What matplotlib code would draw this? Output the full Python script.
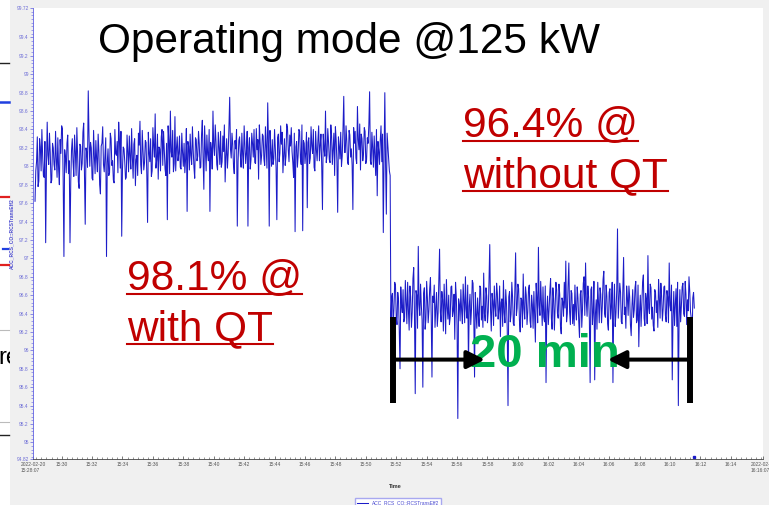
import numpy as np
import pandas as pd
import matplotlib
matplotlib.use("Agg")
import matplotlib.pyplot as plt
import matplotlib.dates as mdates
from matplotlib.ticker import FixedLocator, MultipleLocator
from matplotlib.lines import Line2D
from matplotlib.patches import Rectangle
from matplotlib.transforms import Bbox, TransformedBbox

plt.rcParams['font.family'] = ['Liberation Sans', 'DejaVu Sans']

# RCS transmission efficiency [%], one sample every 3 s
# with QT (before the drop)
eff_with_qt = [
    97.62, 97.95, 98.05, 98.32, 97.78, 97.84, 98.30, 98.21, 97.95, 98.40, 98.12, 97.90,
    97.88, 98.27, 97.17, 97.98, 98.48, 98.12, 98.02, 98.36, 98.15, 97.82, 97.85, 98.25,
    98.20, 98.02, 97.96, 98.38, 98.08, 97.88, 98.31, 97.97, 97.80, 98.29, 98.14, 98.44,
    98.41, 97.86, 97.02, 98.18, 98.10, 97.93, 98.25, 98.34, 97.92, 98.06, 97.17, 97.84,
    98.18, 98.30, 98.05, 97.89, 98.34, 98.16, 97.90, 98.42, 98.12, 97.83, 97.76, 98.24,
    98.22, 97.96, 98.03, 98.37, 98.47, 97.91, 97.37, 98.20, 98.15, 97.99, 98.82, 98.33,
    98.00, 98.26, 98.20, 97.87, 97.85, 98.39, 98.11, 97.92, 98.28, 98.08, 97.94, 98.35,
    98.16, 97.80, 97.70, 98.22, 98.25, 98.43, 98.02, 97.94, 98.12, 98.31, 97.02, 98.04,
    98.19, 97.90, 97.93, 98.36, 98.30, 98.01, 98.06, 97.85, 97.82, 98.40, 98.14, 98.12,
    98.27, 97.93, 98.48, 98.28, 97.98, 98.38, 97.24, 97.97, 98.21, 98.19, 98.05, 97.86,
    97.88, 98.34, 98.16, 97.94, 98.33, 98.11, 97.97, 98.41, 98.10, 97.87, 98.24, 98.30,
    97.79, 98.07, 98.12, 97.90, 98.36, 98.23, 98.49, 98.02, 97.92, 98.39, 98.18, 97.96,
    98.04, 98.28, 98.26, 97.91, 97.39, 98.37, 98.15, 98.05, 98.30, 97.89, 97.95, 98.42,
    98.22, 98.10, 98.57, 97.98, 98.07, 98.35, 97.86, 98.21, 98.19, 97.95, 98.32, 98.40,
    98.01, 98.38, 98.17, 97.97, 97.90, 98.25, 97.42, 98.44, 98.28, 97.92, 98.60, 98.16,
    98.10, 98.39, 97.94, 98.03, 98.54, 97.95, 98.20, 98.32, 98.06, 98.14, 98.33, 97.99,
    97.97, 98.36, 98.15, 98.00, 98.25, 97.93, 98.08, 98.41, 97.51, 98.27, 98.22, 97.96,
    98.35, 98.12, 98.02, 98.43, 98.18, 97.99, 97.87, 98.31, 98.29, 98.06, 98.11, 98.38,
    98.24, 97.98, 97.99, 98.35, 98.50, 98.09, 97.75, 98.44, 98.20, 97.95, 98.34, 98.13,
    98.06, 98.40, 97.51, 98.26, 98.18, 97.97, 98.60, 98.21, 98.12, 98.45, 98.27, 98.02,
    97.96, 98.37, 98.21, 98.02, 98.38, 97.99, 98.05, 98.33, 98.16, 98.45, 97.83, 98.11,
    98.30, 97.98, 98.14, 98.42, 98.75, 98.19, 98.09, 98.36, 98.24, 98.01, 97.92, 98.28,
    98.19, 98.40, 97.35, 98.05, 98.28, 98.32, 98.12, 97.99, 98.36, 98.13, 97.98, 98.44,
    98.22, 98.03, 98.15, 98.38, 97.35, 98.20, 98.31, 97.97, 98.07, 98.36, 98.25, 98.10,
    98.40, 98.04, 98.03, 98.41, 98.18, 98.29, 97.86, 98.45, 98.26, 98.02, 98.12, 98.35,
    98.33, 98.08, 98.01, 98.43, 98.21, 97.98, 98.69, 98.24, 97.35, 98.39, 98.17, 98.00,
    98.29, 98.02, 98.08, 98.40, 98.20, 97.98, 97.42, 98.31, 98.35, 98.05, 98.14, 98.44,
    98.24, 98.37, 97.93, 98.12, 98.30, 98.01, 98.11, 98.46, 98.42, 98.18, 98.05, 98.34,
    98.22, 98.42, 98.16, 98.04, 97.88, 98.36, 97.29, 98.21, 98.27, 97.99, 98.12, 98.40,
    98.38, 98.09, 98.02, 98.45, 97.30, 98.28, 98.25, 98.03, 98.15, 98.37, 97.55, 98.26,
    98.31, 98.03, 98.09, 98.43, 98.22, 98.14, 98.40, 97.99, 97.95, 98.38, 98.18, 98.06,
    98.28, 98.44, 98.06, 98.23, 98.35, 98.01, 97.53, 98.35, 98.20, 98.11, 98.60, 98.04,
    98.12, 98.41, 98.26, 98.07, 98.04, 98.45, 98.33, 98.02, 98.18, 98.36, 97.90, 98.43,
    98.29, 98.05, 97.50, 98.32, 98.22, 98.08, 98.37, 98.00, 98.11, 98.40, 98.76, 98.15,
    98.15, 98.44, 98.27, 98.04, 98.02, 98.39, 98.34, 98.10, 98.19, 98.01, 97.53, 98.42,
    98.25, 98.38, 98.09, 98.03, 98.65, 98.29, 98.18, 98.46, 97.96, 98.35, 98.30, 98.06,
    98.14, 98.42, 98.38, 98.03, 98.07, 98.31, 98.25, 98.45, 98.81, 98.06, 98.02, 98.37,
    98.20, 97.99, 98.33, 98.12, 97.90, 98.40, 97.68, 98.27, 98.17, 98.02, 98.28, 98.44,
    98.05, 98.35, 97.28, 98.10, 98.80, 98.02, 97.48, 98.36, 98.22, 98.08, 97.95, 97.90,
]
# without QT (after the drop)
eff_without_qt = [
    96.30, 96.58, 96.62, 96.27, 96.45, 96.74, 96.71, 96.36, 96.28, 96.63,
    96.55, 96.22, 95.80, 96.69, 96.48, 96.41, 96.66, 96.31, 96.35, 96.76,
    96.52, 96.29, 96.74, 96.44, 96.22, 96.70, 96.58, 96.25, 96.41, 96.78,
    96.90, 96.39, 95.53, 96.65, 96.60, 96.24, 97.13, 96.50, 96.38, 96.72,
    96.49, 96.33, 95.60, 96.62, 96.68, 96.23, 96.33, 96.75, 96.57, 96.30,
    96.44, 96.67, 96.79, 96.38, 95.71, 96.59, 96.52, 96.71, 96.25, 96.46,
    96.63, 96.26, 96.40, 96.73, 97.10, 96.42, 96.31, 96.64, 96.55, 96.21,
    96.72, 96.48, 96.18, 96.77, 96.47, 96.34, 96.60, 96.28, 96.36, 96.69,
    96.70, 96.37, 96.43, 96.61, 96.12, 96.74, 96.58, 96.27, 95.26, 96.56,
    96.50, 96.32, 96.66, 96.43, 96.29, 96.72, 96.54, 96.30, 96.80, 96.45,
    96.35, 96.71, 95.83, 96.48, 96.61, 96.28, 96.45, 96.76, 96.73, 96.35,
    95.71, 96.63, 96.40, 96.24, 96.57, 96.39, 96.26, 96.70, 96.68, 96.33,
    96.48, 96.25, 96.84, 96.40, 96.32, 96.68, 96.59, 96.30, 96.42, 96.75,
    97.15, 96.44, 96.21, 96.62, 96.53, 96.27, 96.70, 96.47, 96.37, 96.73,
    96.62, 96.34, 96.44, 96.70, 96.15, 96.52, 96.56, 96.26, 96.76, 96.41,
    96.30, 96.66, 96.51, 96.23, 95.40, 96.58, 96.64, 96.31, 96.39, 96.74,
    96.58, 96.29, 96.27, 96.65, 97.06, 96.38, 96.46, 96.72, 96.67, 96.33,
    96.20, 96.57, 96.55, 96.25, 96.83, 96.45, 96.34, 96.69, 96.60, 96.28,
    96.42, 96.67, 96.71, 96.32, 96.25, 96.60, 96.50, 96.24, 96.64, 96.39,
    96.09, 96.73, 96.57, 96.30, 97.12, 96.49, 96.38, 96.75, 96.52, 96.27,
    96.69, 96.36, 96.31, 96.70, 95.65, 96.43, 96.59, 96.28, 96.44, 96.64,
    96.78, 96.35, 96.23, 96.68, 96.56, 96.22, 96.47, 96.74, 96.66, 96.40,
    96.35, 96.72, 96.61, 96.26, 96.18, 96.57, 96.53, 96.37, 96.74, 96.46,
    96.97, 96.31, 96.40, 96.71, 96.95, 96.42, 96.28, 96.65, 96.62, 96.29,
    96.50, 96.27, 96.71, 96.44, 96.33, 96.69, 96.57, 96.32, 96.14, 96.61,
    96.65, 96.25, 96.45, 96.73, 96.80, 96.38, 96.95, 96.53, 96.37, 96.70,
    96.58, 96.33, 95.65, 96.66, 96.69, 96.28, 96.42, 96.75, 95.68, 96.40,
    96.55, 96.23, 96.74, 96.52, 96.30, 96.68, 96.61, 96.30, 96.48, 96.77,
    96.86, 96.40, 96.36, 96.71, 96.59, 96.29, 96.22, 96.63, 96.67, 96.34,
    96.49, 96.74, 95.65, 96.45, 96.72, 96.26, 96.41, 96.66, 97.32, 96.35,
    96.54, 96.73, 96.63, 96.31, 96.29, 96.64, 97.01, 96.39, 96.47, 96.24,
    96.70, 96.57, 96.38, 96.70, 96.58, 96.28, 96.16, 96.48, 96.66, 96.36,
    96.44, 96.68, 96.75, 96.30, 96.33, 96.71, 96.04, 96.43, 96.60, 96.26,
    96.51, 96.74, 96.82, 96.35, 96.27, 96.62, 96.56, 96.29, 97.03, 96.46,
    96.40, 96.72, 96.68, 96.34, 96.47, 96.27, 96.21, 96.66, 96.63, 96.41,
    96.54, 96.25, 96.77, 96.58, 96.35, 96.73, 96.59, 96.32, 96.45, 96.69,
    96.70, 96.38, 96.31, 96.65, 96.58, 96.30, 96.95, 96.49, 96.43, 96.71,
    95.68, 96.36, 96.64, 96.27, 96.50, 96.67, 96.26, 96.74, 95.40, 96.33,
    96.66, 96.31, 96.48, 96.69, 96.73, 96.40, 96.37, 96.75, 96.61, 96.28,
    96.55, 96.43, 96.80, 96.64, 96.42, 96.35, 96.04, 96.57, 96.63, 96.46,
]
sample_start = "2022-02-20 15:28:15"
sample_step = "3s"

axis_start = "2022-02-20 15:28:07"
axis_end = "2022-02-20 16:16:07"
y_lo, y_hi = 94.82, 99.72
y_ticks = [94.82, 95, 95.2, 95.4, 95.6, 95.8, 96, 96.2, 96.4, 96.6, 96.8,
           97, 97.2, 97.4, 97.6, 97.8, 98, 98.2, 98.4, 98.6, 98.8, 99, 99.2, 99.4, 99.72]

# 20 min measuring window
span_start = "2022-02-20 15:51:48"
span_end = "2022-02-20 16:11:20"
span_lo, span_hi = 95.43, 96.36
arrow_y = 95.90
arrow_left_tip = "2022-02-20 15:57:50"
arrow_right_tip = "2022-02-20 16:05:55"

end_mark_time = "2022-02-20 16:11:35"
end_mark_val = 94.84

tag = "ACC_RCS_CO::RCSTransEff2"
blue = '#1c1cc8'
red = '#c00000'
green = '#00b050'

values = eff_with_qt + eff_without_qt
times = pd.date_range(sample_start, periods=len(values), freq=sample_step)
d = lambda s: mdates.date2num(pd.Timestamp(s))

fig = plt.figure(figsize=(7.69, 5.05), dpi=100, facecolor='#f0f0f0')
ax = fig.add_axes([33 / 769, 46 / 505, 730 / 769, 451 / 505])
ax.set_facecolor('white')

# leftover slide strip on the far left
fig.add_artist(Rectangle((0, 0), 10 / 769, 1, transform=fig.transFigure,
                         facecolor='white', edgecolor='none', zorder=-5))
for yy, c, w in [(63, '#222222', 1.0), (102, '#2040e0', 1.8), (197, '#e02020', 1.6),
                 (265, '#e02020', 1.6), (330, '#bbbbbb', 0.8), (422, '#bbbbbb', 0.8),
                 (435, '#222222', 1.0)]:
    fig.add_artist(Line2D([0, 9 / 769], [1 - yy / 505] * 2, color=c, lw=w))
fig.add_artist(Line2D([3 / 769, 8 / 769], [1 - 249 / 505] * 2, color='#2040e0', lw=1.6))
stub = fig.text(-2 / 769, 1 - 364 / 505, 're', fontsize=17, color='black')
stub.set_clip_box(TransformedBbox(Bbox([[0, 0], [10 / 769, 1]]), fig.transFigure))

line, = ax.plot(times, values, color=blue, lw=0.75, zorder=2)
ax.plot(pd.Timestamp(end_mark_time), end_mark_val, 's', ms=1.6, color=blue, clip_on=False)

ax.set_xlim(d(axis_start), d(axis_end))
ax.set_ylim(y_lo, y_hi)

for s in ['top', 'right']:
    ax.spines[s].set_visible(False)
ax.spines['left'].set_color('#6060e0')
ax.spines['left'].set_linewidth(0.6)
ax.spines['bottom'].set_color('#444444')
ax.spines['bottom'].set_linewidth(0.6)

ax.set_yticks(y_ticks)
ax.set_yticklabels([f"{v:g}" for v in y_ticks])
ax.yaxis.set_minor_locator(MultipleLocator(0.04))
ax.tick_params(axis='y', which='major', direction='out', length=2, width=0.5,
               color='#6060e0', labelsize=3.5, labelcolor='#6b6bd6', pad=1)
ax.tick_params(axis='y', which='minor', direction='out', length=1.2, width=0.4, color='#6060e0')

xt = [pd.Timestamp(axis_start)] + list(pd.date_range("2022-02-20 15:30", "2022-02-20 16:14", freq="2min")) + [pd.Timestamp(axis_end)]
ax.xaxis.set_major_locator(FixedLocator(mdates.date2num(xt)))
xl = [t.strftime("%H:%M") for t in xt]
xl[0] = xt[0].strftime("%Y-%m-%d\n%H:%M:%S")
xl[-1] = xt[-1].strftime("%Y-%m-%d\n%H:%M:%S")
ax.set_xticklabels(xl)
ax.xaxis.set_minor_locator(mdates.SecondLocator(bysecond=[0, 20, 40]))
ax.tick_params(axis='x', which='major', direction='in', length=2.5, width=0.5,
               color='#444444', labelsize=3.5, labelcolor='#555555', pad=2)
ax.tick_params(axis='x', which='minor', direction='in', length=1.5, width=0.4, color='#444444')
for lab in ax.get_xticklabels():
    lab.set_multialignment('left')

ax.set_xlabel('Time', fontsize=4, fontweight='bold', color='#333333')
ax.xaxis.set_label_coords((395 - 33) / 730, (459 - 484) / 451)
ax.set_ylabel(tag, fontsize=3.5, fontweight='bold', color='#4a4ad0')
ax.yaxis.set_label_coords((14 - 33) / 730, 0.5)

fig.legend(handles=[line], labels=[tag], loc='upper center',
           bbox_to_anchor=(398 / 769, 9 / 505), fontsize=3.5, fancybox=False,
           edgecolor='#a8a8f0', framealpha=1, handlelength=2.2, borderpad=0.4,
           labelcolor='#4a4ad0')

# headline and annotations
ax.text(0.089, 0.900, 'Operating mode @125 kW', transform=ax.transAxes,
        fontsize=30.5, color='black', va='baseline', ha='left', zorder=6)

red_lines = [(0.589, 0.714, '96.4% @'), (0.589, 0.603, 'without QT'),
             (0.1288, 0.3747, '98.1% @'), (0.1288, 0.2639, 'with QT')]
red_texts = []
for x, y, s in red_lines:
    red_texts.append(ax.text(x, y, s, transform=ax.transAxes, fontsize=30.5,
                             color=red, va='baseline', ha='left', zorder=6))

ax.text(0.5986, 0.204, '20 min', transform=ax.transAxes, fontsize=34,
        fontweight='bold', color=green, va='baseline', ha='left', zorder=6)

ax.vlines([d(span_start), d(span_end)], span_lo, span_hi, colors='black', lw=4.3, zorder=8)
arrow_kw = dict(arrowstyle='-|>,head_length=0.9,head_width=0.45', lw=2.9,
                color='black', shrinkA=0, shrinkB=0, mutation_scale=12)
ax.annotate('', xy=(d(arrow_left_tip), arrow_y), xytext=(d(span_start), arrow_y),
            arrowprops=arrow_kw, zorder=8)
ax.annotate('', xy=(d(arrow_right_tip), arrow_y), xytext=(d(span_end), arrow_y),
            arrowprops=arrow_kw, zorder=8)

# underline the red text
fig.canvas.draw()
r = fig.canvas.get_renderer()
inv = ax.transAxes.inverted()
for t, (x, y, s) in zip(red_texts, red_lines):
    bb = t.get_window_extent(r)
    x0 = inv.transform((bb.x0, bb.y0))[0]
    x1 = inv.transform((bb.x1, bb.y0))[0]
    ax.plot([x0, x1], [y - 0.009, y - 0.009], transform=ax.transAxes,
            color=red, lw=1.5, zorder=6)

fig.savefig('out.png', dpi=100, facecolor=fig.get_facecolor())
